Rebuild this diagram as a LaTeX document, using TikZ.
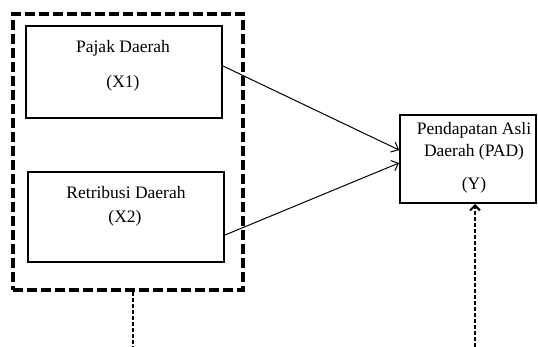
\documentclass[tikz,border=0pt]{standalone}
\usepackage{fontspec}
\setmainfont{Liberation Serif}
\usetikzlibrary{arrows.meta}
\begin{document}
\begin{tikzpicture}[x=1pt,y=-1pt,
  box/.style={draw=black,line width=2pt,inner sep=0pt},
  outerbox/.style={draw=black,line width=3.5pt,dash pattern=on 10pt off 4pt,inner sep=0pt},
  lbl/.style={font=\fontsize{17.5}{20}\selectfont,inner sep=0pt},
  conn/.style={line width=1pt,-{Straight Barb[length=6pt,width=11pt]}},
  dconn/.style={line width=2pt,dash pattern=on 4pt off 2pt}]
\useasboundingbox (0,0) rectangle (538,347);
\node[outerbox,minimum width=230pt,minimum height=276pt] (outer) at (128,152) {};
\node[box,minimum width=196pt,minimum height=92pt] (x1) at (124,72) {};
\node[box,minimum width=196pt,minimum height=90pt] (x2) at (126,217) {};
\node[box,minimum width=136pt,minimum height=88pt] (y) at (468,159) {};
\node[lbl] (t1a) at (123,48) {Pajak Daerah};
\node[lbl] (t1b) at (123,83) {(X1)};
\node[lbl] (t2a) at (126,193) {Retribusi Daerah};
\node[lbl] (t2b) at (125,218) {(X2)};
\node[lbl] (t3a) at (474,130) {Pendapatan Asli};
\node[lbl] (t3b) at (474,152) {Daerah (PAD)};
\node[lbl] (t3c) at (474,185) {(Y)};
\draw[conn] ([yshift=6pt]x1.east) -- ([yshift=9pt]y.west);
\draw[conn] ([yshift=-18pt]x2.east) -- ([yshift=-4pt]y.west);
\coordinate (bl) at (133,347);
\coordinate (br) at (475,347);
\draw[dconn] ([xshift=5pt]outer.south) -- (bl);
\draw[dconn,-{Straight Barb[length=5pt,width=10pt]}] (br) -- ([xshift=7pt]y.south);
\end{tikzpicture}
\end{document}
